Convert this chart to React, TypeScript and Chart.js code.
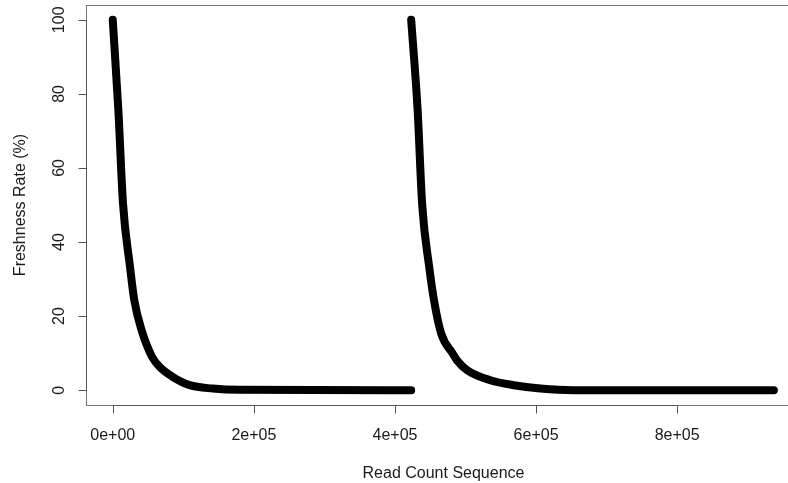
import { useEffect, useRef } from "react";
import { Chart, registerables } from "chart.js";

Chart.register(...registerables);

// First run: read count position vs. freshness rate (%)
const readsRunA = [0, 8000, 14500, 24500, 30500, 42200, 49700, 55700, 66300, 84800, 109000, 141600, 180000, 423000];
const freshRunA = [100, 75.5, 50.5, 33.3, 24.3, 15.4, 11.5, 9.0, 6.3, 3.6, 1.35, 0.45, 0.1, 0];

// Second run
const readsRunB = [423000, 432100, 438500, 448500, 455300, 465500, 481800, 487800, 502400, 535100, 568200, 606100, 653000, 937000];
const freshRunB = [100, 75.7, 50.3, 33.3, 24.3, 15.3, 9.9, 8.1, 5.4, 2.7, 1.35, 0.46, 0, 0];

const xTickValues = [0, 200000, 400000, 600000, 800000];
const xTickLabels = ["0e+00", "2e+05", "4e+05", "6e+05", "8e+05"];
const yTickValues = [0, 20, 40, 60, 80, 100];
const yTickLabels = ["0", "20", "40", "60", "80", "100"];

const xTitle = "Read Count Sequence";
const yTitle = "Freshness Rate (%)";

const FONT = '16px "Liberation Sans", Arial, Helvetica, sans-serif';

const toPoints = (xs: number[], ys: number[]) => xs.map((x, i) => ({ x, y: ys[i] }));

// Base-graphics style frame: box, outward ticks, rotated y labels, titles
const baseAxes = {
  id: "baseAxes",
  afterDraw(chart: any) {
    const { ctx, chartArea: a, scales } = chart;
    const xs = scales.x;
    const ys = scales.y;
    const tick = 8;
    ctx.save();

    ctx.lineWidth = 1;
    ctx.strokeStyle = "#777";
    const L = Math.round(a.left) + 0.5;
    const T = Math.round(a.top) + 0.5;
    const R = Math.round(a.right) + 0.5;
    const B = Math.round(a.bottom) + 0.5;
    ctx.strokeRect(L, T, R - L, B - T);

    ctx.strokeStyle = "#555";
    // x axis
    const x0 = Math.round(xs.getPixelForValue(xTickValues[0])) + 0.5;
    const x1 = Math.round(xs.getPixelForValue(xTickValues[xTickValues.length - 1])) + 0.5;
    ctx.beginPath();
    ctx.moveTo(x0, B);
    ctx.lineTo(x1, B);
    xTickValues.forEach((v) => {
      const px = Math.round(xs.getPixelForValue(v)) + 0.5;
      ctx.moveTo(px, B);
      ctx.lineTo(px, B + tick);
    });
    // y axis
    const y0 = Math.round(ys.getPixelForValue(yTickValues[0])) + 0.5;
    const y1 = Math.round(ys.getPixelForValue(yTickValues[yTickValues.length - 1])) + 0.5;
    ctx.moveTo(L, y0);
    ctx.lineTo(L, y1);
    yTickValues.forEach((v) => {
      const py = Math.round(ys.getPixelForValue(v)) + 0.5;
      ctx.moveTo(L, py);
      ctx.lineTo(L - tick, py);
    });
    ctx.stroke();

    ctx.fillStyle = "#1a1a1a";
    ctx.font = FONT;
    ctx.textAlign = "center";
    ctx.textBaseline = "alphabetic";
    xTickValues.forEach((v, i) => {
      ctx.fillText(xTickLabels[i], xs.getPixelForValue(v), 440);
    });
    yTickValues.forEach((v, i) => {
      ctx.save();
      ctx.translate(63.5, ys.getPixelForValue(v));
      ctx.rotate(-Math.PI / 2);
      ctx.fillText(yTickLabels[i], 0, 0);
      ctx.restore();
    });

    ctx.fillText(xTitle, (a.left + a.right) / 2, 477.5);
    ctx.save();
    ctx.translate(25, (a.top + a.bottom) / 2);
    ctx.rotate(-Math.PI / 2);
    ctx.fillText(yTitle, 0, 0);
    ctx.restore();

    ctx.restore();
  },
};

export default function App() {
  const canvasRef = useRef<HTMLCanvasElement | null>(null);

  useEffect(() => {
    const canvas = canvasRef.current;
    if (!canvas) return;
    const series = {
      type: "line" as const,
      borderColor: "#000",
      backgroundColor: "#000",
      borderWidth: 8,
      borderCapStyle: "round" as const,
      borderJoinStyle: "round" as const,
      cubicInterpolationMode: "monotone" as const,
      pointRadius: 0,
      fill: false,
    };
    const chart = new Chart(canvas, {
      type: "line",
      data: {
        datasets: [
          { ...series, label: "run A", data: toPoints(readsRunA, freshRunA) },
          { ...series, label: "run B", data: toPoints(readsRunB, freshRunB) },
        ],
      },
      options: {
        animation: false,
        responsive: false,
        devicePixelRatio: 1,
        layout: { autoPadding: false, padding: { left: 86, top: 5, right: 0, bottom: 78 } },
        plugins: { legend: { display: false }, tooltip: { enabled: false } },
        scales: {
          x: { type: "linear", display: false, min: -37900, max: 975500 },
          y: { type: "linear", display: false, min: -4, max: 104 },
        },
      },
      plugins: [baseAxes],
    });
    return () => chart.destroy();
  }, []);

  return (
    <div
      style={{
        position: "fixed",
        left: 0,
        top: 0,
        width: 788,
        height: 483,
        overflow: "hidden",
        background: "#fff",
      }}
    >
      <canvas ref={canvasRef} width={801} height={483} style={{ display: "block" }} />
    </div>
  );
}
